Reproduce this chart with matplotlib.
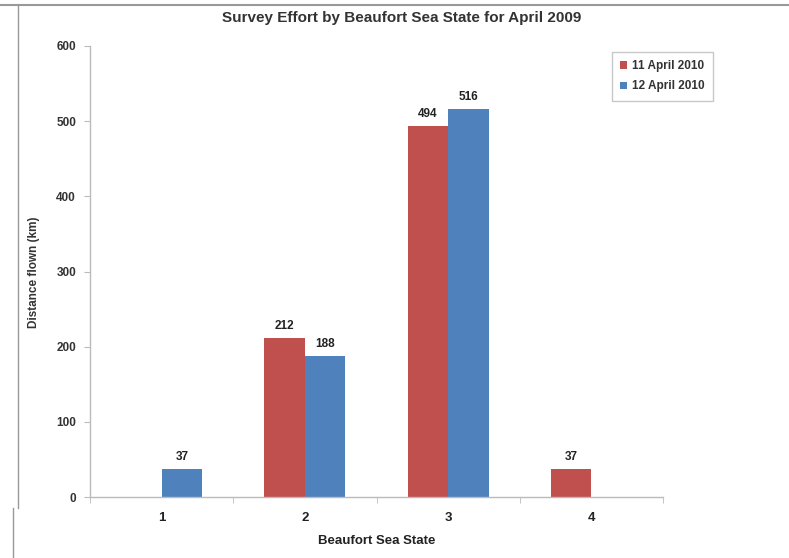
import matplotlib
matplotlib.use("Agg")
import matplotlib.pyplot as plt
import numpy as np
from matplotlib.lines import Line2D

categories = ["1", "2", "3", "4"]
series_names = ["11 April 2010", "12 April 2010"]
april11 = [0, 212, 494, 37]
april12 = [37, 188, 516, 0]
yticks = [0, 100, 200, 300, 400, 500, 600]

red = "#C0504D"
blue = "#4F81BD"
plt.rcParams['font.family'] = ['Liberation Sans', 'DejaVu Sans']

fig = plt.figure(figsize=(7.89, 5.58), dpi=100)
ax = fig.add_axes([90/789, 1-497/558, (663-90)/789, (497-46)/558])

x = np.arange(len(categories))
w = 0.283
b1 = ax.bar(x - w/2, april11, w, color=red, label=series_names[0])
b2 = ax.bar(x + w/2, april12, w, color=blue, label=series_names[1])

for bars, vals in ((b1, april11), (b2, april12)):
    for bar, v in zip(bars, vals):
        if v > 0:
            ax.text(bar.get_x() + bar.get_width()/2, v + 8, str(v),
                    ha='center', va='bottom', fontsize=8.5, fontweight='bold', color='#222222')

ax.set_xlim(-0.5, len(categories) - 0.5)
ax.set_ylim(0, 600)
ax.set_yticks(yticks)
ax.set_yticklabels([str(t) for t in yticks], fontsize=8.5, fontweight='bold', color='#333333')
ax.set_xticks(x)
ax.set_xticklabels(categories, fontsize=9.5, fontweight='bold', color='#222222')
ax.set_xticks(np.arange(-0.5, len(categories)), minor=True)
ax.tick_params(axis='x', which='major', length=0, pad=11)
ax.tick_params(axis='x', which='minor', length=4, color='#BBBBBB', direction='out')
ax.tick_params(axis='y', length=4, color='#BBBBBB', pad=6)

for s in ['top', 'right']:
    ax.spines[s].set_visible(False)
for s in ['left', 'bottom']:
    ax.spines[s].set_color('#BBBBBB')
    ax.spines[s].set_linewidth(1.0)

ax.set_xlabel("Beaufort Sea State", fontsize=9.5, fontweight='bold', labelpad=8, color='#222222')
ax.set_ylabel("Distance flown (km)", fontsize=8.5, fontweight='bold', labelpad=12, color='#333333')
ax.yaxis.set_label_coords(40/789, 1-272/558, transform=fig.transFigure)
fig.text(402/789, 1-18/558, "Survey Effort by Beaufort Sea State for April 2009",
         ha='center', va='center', fontsize=11, fontweight='bold', color='#333333')

leg = ax.legend(loc='upper right', bbox_to_anchor=(719/789, 1-46/558), bbox_transform=fig.transFigure,
                fontsize=8.5, frameon=True, fancybox=False, handlelength=0.6, handleheight=0.6,
                handletextpad=0.4, borderpad=0.7, labelspacing=0.7)
leg.get_frame().set_edgecolor('#BBBBBB')
leg.get_frame().set_linewidth(1.0)
for t in leg.get_texts():
    t.set_fontweight('bold')
    t.set_color('#333333')

# outer frame lines
fig.add_artist(Line2D([0.0, 1.0], [1-5/558, 1-5/558], transform=fig.transFigure, color='#999999', lw=1.5))
fig.add_artist(Line2D([18/789, 18/789], [1-5/558, 1-508/558], transform=fig.transFigure, color='#999999', lw=1.0))
fig.add_artist(Line2D([13/789, 13/789], [1-508/558, 0], transform=fig.transFigure, color='#999999', lw=1.0))

fig.savefig("out.png", dpi=100)
